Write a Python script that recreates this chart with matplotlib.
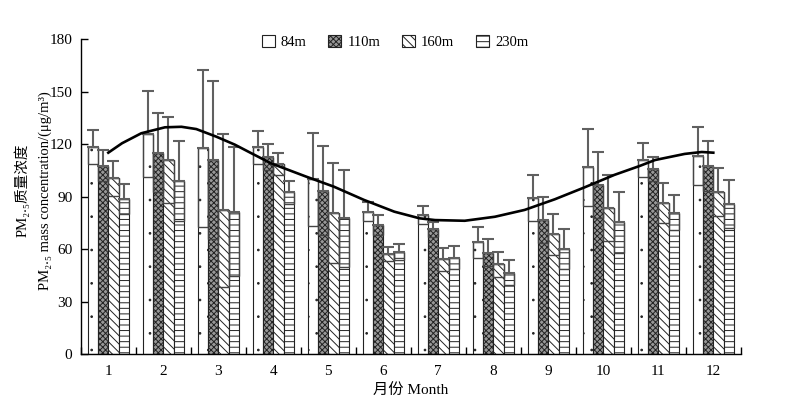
import matplotlib
matplotlib.use("Agg")
import matplotlib.pyplot as plt
from matplotlib import hatch as mhatch
import numpy as np

plt.rcParams["font.family"] = ["Liberation Serif", "Noto Sans CJK SC", "DejaVu Serif"]
plt.rcParams["hatch.linewidth"] = 0.7


# smaller dots for the '.' hatch (the default ones are too big)
class TinyDots(mhatch.Circles):
    size = 0.05
    filled = True

    def __init__(self, hatch, density):
        self.num_rows = hatch.count(".") * density
        super().__init__(hatch, density)


mhatch._hatch_types = [TinyDots if t is mhatch.SmallFilledCircles else t
                       for t in mhatch._hatch_types]

months = [str(m) for m in range(1, 13)]
heights = ["84m", "110m", "160m", "230m"]

# monthly mean PM2.5 (ug/m3) per height
mean_84 = [118.6, 125.9, 117.7, 118.3, 100.0, 81.5, 79.6, 64.0, 89.5, 106.9, 111.0, 113.3]
mean_110 = [107.8, 115.2, 111.0, 112.6, 93.5, 73.9, 71.4, 58.1, 76.7, 96.7, 105.7, 107.6]
mean_160 = [100.6, 111.0, 82.3, 108.6, 80.6, 57.3, 54.3, 51.4, 68.6, 83.8, 86.3, 92.6]
mean_230 = [88.7, 99.0, 81.5, 92.6, 77.7, 58.6, 55.2, 46.6, 60.0, 75.4, 80.9, 85.7]

# standard deviations
sd_84 = [9.8, 24.5, 45.0, 9.4, 26.6, 5.3, 5.1, 8.7, 13.2, 21.9, 9.9, 16.7]
sd_110 = [9.0, 22.7, 45.4, 7.4, 25.5, 5.9, 4.3, 7.6, 13.1, 18.7, 6.9, 14.5]
sd_160 = [9.9, 24.5, 43.8, 6.3, 28.5, 4.1, 6.5, 7.2, 11.8, 18.9, 11.4, 13.6]
sd_230 = [8.4, 23.0, 36.9, 6.5, 27.6, 4.7, 6.7, 7.2, 11.4, 17.4, 10.0, 13.8]

# trend curve (month position, value)
curve_x = [1.0, 1.25, 1.6, 2.03, 2.33, 2.6, 2.96, 3.3, 3.6, 3.96, 4.6, 5.1, 5.65,
           6.2, 6.66, 6.94, 7.48, 8.03, 8.57, 9.12, 9.66, 10.2, 10.66, 10.94,
           11.48, 11.79, 12.0]
curve_y = [115.2, 120.6, 126.3, 129.7, 130.0, 128.7, 124.4, 119.8, 114.9, 109.1,
           101.5, 95.8, 88.2, 81.5, 77.7, 76.7, 76.3, 78.6, 82.5, 88.6, 95.4,
           102.5, 107.6, 111.0, 114.5, 115.6, 115.2]

means = [mean_84, mean_110, mean_160, mean_230]
sds = [sd_84, sd_110, sd_160, sd_230]
styles = [
    dict(facecolor="white", hatch="."),
    dict(facecolor="#989898", hatch="xxxxxx"),
    dict(facecolor="white", hatch="\\\\\\\\"),
    dict(facecolor="white", hatch="---"),
]

fig = plt.figure(figsize=(8.0, 3.98), dpi=100)
ax = fig.add_axes([0.101, 0.1098, 0.825, 0.7915])

x = np.arange(1, 13)
w = 0.186
for i, (m, s, st) in enumerate(zip(means, sds, styles)):
    pos = x + (i - 1.5) * w
    m = np.array(m)
    s = np.array(s)
    ax.bar(pos, m, width=w, edgecolor="#222222", linewidth=0.8,
           label=heights[i], zorder=2, **st)
    # lower sd drawn as an outlined box
    ax.bar(pos, s, bottom=m - s, width=w, fill=False, edgecolor="#444444",
           linewidth=1.0, zorder=3)
    ax.errorbar(pos, m, yerr=[np.zeros_like(s), s], fmt="none",
                ecolor="#606060", elinewidth=1.5, capsize=4.5, capthick=1.5,
                zorder=3)

ax.plot(curve_x, curve_y, color="black", linewidth=1.9, zorder=4)

ax.set_xlim(0.5, 12.5)
ax.set_ylim(0, 180)
ax.set_yticks(range(0, 181, 30))
ax.set_xticks(x)
ax.set_xticklabels(months)
ax.set_xticks(np.arange(0.5, 12.6, 1), minor=True)
ax.tick_params(axis="x", which="major", length=0, labelsize=11, pad=8)
ax.tick_params(axis="x", which="minor", direction="in", length=5, width=1)
ax.tick_params(axis="y", direction="in", length=5, width=1, labelsize=11, pad=6)
for side in ("top", "right"):
    ax.spines[side].set_visible(False)
for side in ("left", "bottom"):
    ax.spines[side].set_linewidth(1.0)

ax.set_xlabel("月份 Month", fontsize=11, labelpad=4)
fig.text(22 / 800, 0.523, "PM₂.₅质量浓度", rotation=90, ha="center", va="center",
         fontsize=10.5)
fig.text(45 / 800, 0.52, "PM₂.₅ mass concentration/(μg/m³)", rotation=90,
         ha="center", va="center", fontsize=10.5)

ax.legend(loc="center", bbox_to_anchor=(0.476, 0.99), ncol=4, frameon=False,
          fontsize=10.5, handlelength=0.9, handleheight=0.9, handletextpad=0.4,
          columnspacing=1.5)

fig.savefig("out.png", dpi=100)
plt.close(fig)
